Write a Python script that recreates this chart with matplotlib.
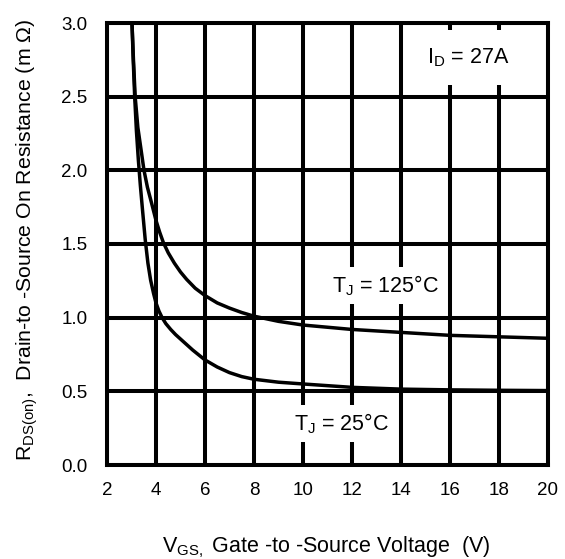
import matplotlib
matplotlib.use("Agg")
import matplotlib.pyplot as plt

plt.rcParams['font.family'] = ['Liberation Sans', 'DejaVu Sans']
plt.rcParams['mathtext.fontset'] = 'custom'
plt.rcParams['mathtext.rm'] = 'Liberation Sans'
plt.rcParams['mathtext.it'] = 'Liberation Sans:italic'

# Data
vgs_25 = [3.02, 3.07, 3.13, 3.2, 3.28, 3.36, 3.45, 3.56, 3.67, 3.78, 3.9, 4.0,
          4.12, 4.25, 4.4, 4.6, 4.8, 5.0, 5.5, 6.0, 6.5, 7.0, 7.5, 8.0, 9.0,
          10, 12, 14, 16, 18, 20]
rds_25 = [3.0, 2.75, 2.5, 2.27, 2.07, 1.9, 1.73, 1.53, 1.37, 1.255, 1.165, 1.10,
          1.045, 1.0, 0.96, 0.92, 0.885, 0.855, 0.78, 0.713, 0.665, 0.627, 0.60,
          0.582, 0.562, 0.55, 0.527, 0.515, 0.51, 0.507, 0.505]

vgs_125 = [3.02, 3.08, 3.15, 3.26, 3.39, 3.51, 3.65, 3.8, 4.0, 4.15, 4.3, 4.5,
           4.75, 5.0, 5.25, 5.6, 6.0, 6.5, 7.0, 7.5, 8.0, 9.0, 10, 11, 12, 14,
           16, 18, 20]
rds_125 = [3.0, 2.75, 2.5, 2.29, 2.14, 2.0, 1.885, 1.79, 1.66, 1.58, 1.51, 1.44,
           1.37, 1.31, 1.26, 1.20, 1.15, 1.10, 1.065, 1.035, 1.01, 0.975, 0.95,
           0.935, 0.92, 0.90, 0.88, 0.87, 0.86]

x_ticks = [2, 4, 6, 8, 10, 12, 14, 16, 18, 20]
y_ticks = [0.0, 0.5, 1.0, 1.5, 2.0, 2.5, 3.0]
y_tick_labels = ['0.0', '0.5', '1.0', '1.5', '2.0', '2.5', '3.0']

W, H = 565, 559
fig = plt.figure(figsize=(W / 100, H / 100), dpi=100)
ax = fig.add_axes([107 / W, 1 - 465 / H, (548 - 107) / W, (465 - 23) / H])

ax.set_xlim(2, 20)
ax.set_ylim(0, 3)
ax.set_xticks(x_ticks)
ax.set_yticks(y_ticks)
ax.set_yticklabels(y_tick_labels)
ax.tick_params(axis='both', length=0, labelsize=13.5, colors='black')
ax.tick_params(axis='x', pad=12)
ax.tick_params(axis='y', pad=14)
ax.set_axisbelow(True)
ax.grid(True, color='black', linewidth=2.9)
for s in ax.spines.values():
    s.set_linewidth(2.9)
    s.set_color('black')

ax.plot(vgs_25, rds_25, color='black', linewidth=2.5, solid_joinstyle='round', zorder=3)
ax.plot(vgs_125, rds_125, color='black', linewidth=2.5, solid_joinstyle='round', zorder=3)

fs_ann = 15.5
ax.text(16.76, 2.729, r'$\mathregular{I_D}$ = 27A', fontsize=fs_ann, ha='center',
        va='baseline', zorder=5,
        bbox=dict(boxstyle='square,pad=0.75', facecolor='white', edgecolor='none'))
ax.text(13.39, 1.174, r'$\mathregular{T_J}$ = 125°C', fontsize=fs_ann, ha='center',
        va='baseline', zorder=5,
        bbox=dict(boxstyle='square,pad=0.3', facecolor='white', edgecolor='none'))
ax.text(11.59, 0.2376, r'$\mathregular{T_J}$ = 25°C', fontsize=fs_ann, ha='center',
        va='baseline', zorder=5,
        bbox=dict(boxstyle='square,pad=0.28', facecolor='white', edgecolor='none'))

fig.text(326 / W, 1 - 552 / H, r'$\mathregular{V_{GS,}}$ Gate -to -Source Voltage  (V)',
         fontsize=15.5, ha='center', va='baseline')
fig.text(32 / W, 1 - 240 / H,
         r'$\mathregular{R_{DS(on)}}$,  Drain-to -Source On Resistance (m Ω)',
         fontsize=15.3, ha='center', va='baseline', rotation=90, rotation_mode='anchor')

fig.savefig('out.png', dpi=100)
